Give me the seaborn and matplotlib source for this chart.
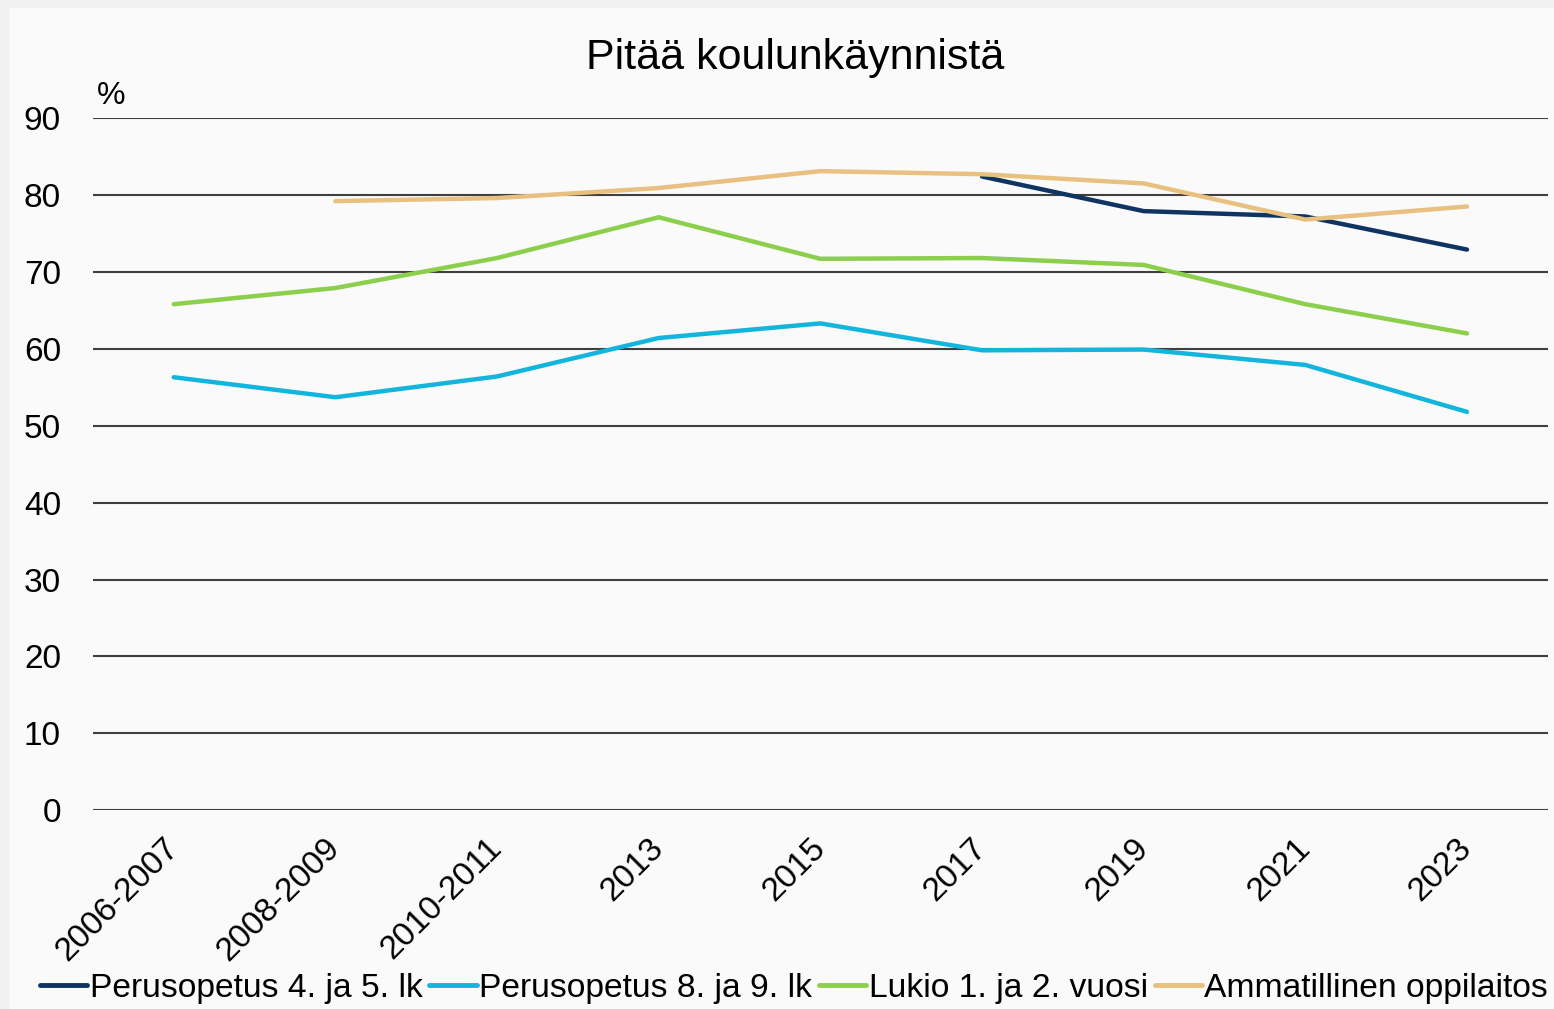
import matplotlib
matplotlib.use("Agg")
import matplotlib.pyplot as plt
import numpy as np
import pandas as pd
import seaborn as sns

periods = ["2006-2007", "2008-2009", "2010-2011", "2013", "2015",
           "2017", "2019", "2021", "2023"]
peru_4_5 = [np.nan, np.nan, np.nan, np.nan, np.nan, 82.4, 77.9, 77.2, 72.9]
peru_8_9 = [56.3, 53.7, 56.4, 61.4, 63.3, 59.8, 59.9, 57.9, 51.8]
lukio = [65.8, 67.9, 71.8, 77.1, 71.7, 71.8, 70.9, 65.8, 62.0]
ammatillinen = [np.nan, 79.2, 79.6, 80.9, 83.1, 82.7, 81.5, 76.8, 78.5]

series = {
    "Perusopetus 4. ja 5. lk": peru_4_5,
    "Perusopetus 8. ja 9. lk": peru_8_9,
    "Lukio 1. ja 2. vuosi": lukio,
    "Ammatillinen oppilaitos": ammatillinen,
}
colors = ["#0f3461", "#13b5dd", "#8ccf4d", "#e8c180"]

rows = []
for name, vals in series.items():
    for i, v in enumerate(vals):
        rows.append({"pos": i, "ryhmä": name, "arvo": v})
df = pd.DataFrame(rows).dropna()

sns.set_style("white")
plt.rcParams["font.family"] = ["Liberation Sans", "DejaVu Sans"]
plt.rcParams["text.color"] = "black"

fig = plt.figure(figsize=(15.54, 10.09), dpi=100, facecolor="#fafafa")
# light grey frame strip on top / left like the screenshot
fig.patches.append(plt.Rectangle((0, 0.993), 1, 0.007, transform=fig.transFigure,
                                 color="#f0f0f0", zorder=0))
fig.patches.append(plt.Rectangle((0, 0), 0.005, 1, transform=fig.transFigure,
                                 color="#f0f0f0", zorder=0))

ax = fig.add_axes([0.0598, 0.197, 0.9362, 0.686])
ax.set_facecolor("#fafafa")

sns.lineplot(
    data=df, x="pos", y="arvo", hue="ryhmä",
    hue_order=list(series.keys()), palette=colors,
    linewidth=3.2, ax=ax, legend=True, zorder=3
)

ax.set_xlim(-0.5, len(periods) - 0.5)
ax.set_ylim(0, 90)
ax.set_yticks(range(0, 91, 10))
ax.set_xticks(range(len(periods)))
ax.set_xticklabels(periods, rotation=45, ha="right", va="center",
                   rotation_mode="anchor")
ax.tick_params(axis="both", labelsize=24, length=0, colors="black")
ax.tick_params(axis="y", pad=23)
ax.tick_params(axis="x", pad=24)
ax.yaxis.grid(True, color="#3f3f3f", linewidth=1.5)
ax.set_axisbelow(True)
for s in ax.spines.values():
    s.set_visible(False)
ax.set_xlabel("")
ax.set_ylabel("")

ax.text(0.003, 1.01, "%", transform=ax.transAxes, fontsize=23,
        ha="left", va="bottom")
fig.text(0.512, 0.943, "Pitää koulunkäynnistä", fontsize=31,
         ha="center", va="center")

handles, labels = ax.get_legend_handles_labels()
for h in handles:
    h.set_linewidth(3.5)
ax.get_legend().remove()
fig.legend(handles, labels, loc="lower center", bbox_to_anchor=(0.511, -0.015),
           ncol=4, frameon=False, fontsize=24.2, handlelength=1.4,
           handletextpad=0.08, columnspacing=0.2, borderaxespad=0.2)

fig.savefig("out.png", dpi=100, facecolor=fig.get_facecolor())
